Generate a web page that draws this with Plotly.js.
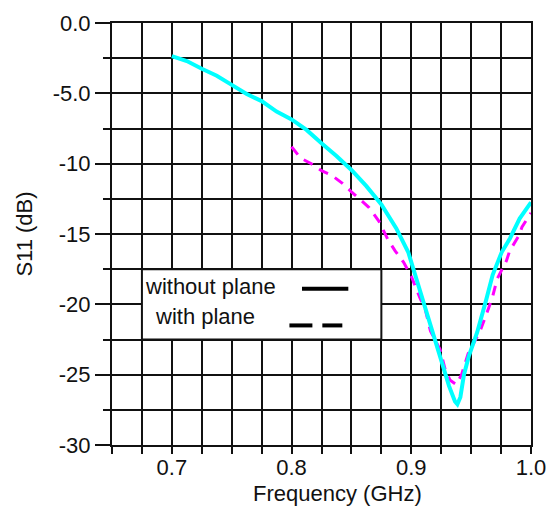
<!DOCTYPE html>
<html>
<head>
<meta charset="utf-8">
<script src="https://cdn.plot.ly/plotly-3.0.1.min.js"></script>
<style>
html,body{margin:0;padding:0;background:#fff;}
#chart{width:554px;height:508px;}
</style>
</head>
<body>
<div id="chart"></div>
<script>
// S11 without ground plane (solid cyan)
const freqWithout = [0.700,0.7125,0.725,0.7375,0.750,0.7625,0.775,0.7875,0.800,0.8125,0.825,0.8375,0.850,0.8625,0.875,0.8875,0.8975,0.9025,0.9075,0.9175,0.925,0.9315,0.9365,0.9385,0.941,0.944,0.948,0.955,0.9625,0.968,0.9755,0.9825,0.9905,1.000];
const s11Without  = [-2.35,-2.7,-3.25,-3.75,-4.4,-5.05,-5.55,-6.3,-6.85,-7.6,-8.55,-9.45,-10.45,-11.6,-12.9,-14.6,-16.3,-17.7,-19.3,-22.0,-24.0,-25.8,-26.9,-27.1,-26.6,-25.0,-23.7,-22.0,-19.7,-17.9,-16.3,-15.3,-13.9,-12.75];
// S11 with ground plane (dashed magenta)
const freqWith = [0.800,0.8075,0.8165,0.825,0.833,0.8425,0.850,0.8575,0.8645,0.873,0.8805,0.8865,0.8935,0.900,0.9075,0.9115,0.916,0.924,0.9285,0.9325,0.9375,0.942,0.9475,0.9575,0.9675,0.9717,0.9745,0.9795,0.9822,0.990,0.9925,1.000];
const s11With  = [-8.8,-9.6,-10.0,-10.5,-10.8,-11.4,-12.0,-12.6,-13.1,-14.1,-15.4,-16.2,-17.0,-18.0,-19.6,-20.3,-21.9,-23.2,-24.7,-25.4,-25.7,-25.0,-23.5,-21.9,-19.6,-18.2,-17.7,-16.9,-16.2,-15.1,-14.5,-13.5];

const xTickVals = [0.7,0.8,0.9,1.0];
const xTickText = ["0.7","0.8","0.9","1.0"];
const yTickVals = [0,-5,-10,-15,-20,-25,-30];
const yTickText = ["0.0","-5.0","-10","-15","-20","-25","-30"];
const legendLabels = ["without plane","with plane"];
const xTitle = "Frequency (GHz)";
const yTitle = "S11 (dB)";

const FONT = "Arial, 'Liberation Sans', sans-serif";
const TXT = "#111";

const traces = [
  {x: freqWith, y: s11With, type: "scatter", mode: "lines", name: legendLabels[1],
   line: {color: "#ff00ff", width: 3, dash: "10px,8px"}, showlegend: false},
  {x: freqWithout, y: s11Without, type: "scatter", mode: "lines", name: legendLabels[0],
   line: {color: "#00ffff", width: 4}, showlegend: false}
];

const layout = {
  width: 554, height: 508,
  margin: {l: 112, r: 23, t: 23, b: 63},
  paper_bgcolor: "#fff", plot_bgcolor: "#fff",
  font: {family: FONT, size: 22, color: TXT},
  showlegend: false,
  xaxis: {
    range: [0.65, 1.0], tickmode: "array", tickvals: xTickVals, ticktext: xTickText,
    ticks: "outside", ticklen: 7, tickwidth: 2, tickcolor: "#111", ticklabelstandoff: -5,
    showgrid: true, gridcolor: "#111", gridwidth: 2,
    minor: {tickmode: "linear", tick0: 0.65, dtick: 0.025, ticks: "outside", ticklen: 7, tickwidth: 2, tickcolor: "#111", showgrid: true, gridcolor: "#111", gridwidth: 2},
    showline: true, mirror: true, linecolor: "#111", linewidth: 2, zeroline: false,
    tickfont: {family: FONT, size: 22, color: TXT}, fixedrange: true
  },
  yaxis: {
    range: [-30, 0], tickmode: "array", tickvals: yTickVals, ticktext: yTickText,
    ticks: "outside", ticklen: 15, tickwidth: 2, tickcolor: "#111",
    showgrid: true, gridcolor: "#111", gridwidth: 2,
    minor: {tickmode: "linear", tick0: 0, dtick: 2.5, ticks: "outside", ticklen: 7, tickwidth: 2, tickcolor: "#111", showgrid: true, gridcolor: "#111", gridwidth: 2},
    showline: true, mirror: true, linecolor: "#111", linewidth: 2, zeroline: false,
    tickfont: {family: FONT, size: 22, color: TXT},
    title: {text: yTitle, font: {family: FONT, size: 22, color: TXT}, standoff: 14},
    fixedrange: true
  },
  shapes: [
    {type: "rect", xref: "x", yref: "y", x0: 0.675, x1: 0.875, y0: -22.5, y1: -17.5,
     fillcolor: "#fff", line: {color: "#111", width: 2}, layer: "above"},
    {type: "line", xref: "x", yref: "y", x0: 0.8087, x1: 0.8474, y0: -18.9, y1: -18.9,
     line: {color: "#000", width: 4}, layer: "above"},
    {type: "line", xref: "x", yref: "y", x0: 0.7982, x1: 0.8174, y0: -21.5, y1: -21.5,
     line: {color: "#000", width: 4}, layer: "above"},
    {type: "line", xref: "x", yref: "y", x0: 0.8257, x1: 0.8424, y0: -21.5, y1: -21.5,
     line: {color: "#000", width: 4}, layer: "above"}
  ],
  annotations: [
    {text: legendLabels[0], xref: "x", yref: "y", x: 0.676, y: -18.75, xanchor: "left", yanchor: "middle",
     showarrow: false, font: {family: FONT, size: 22, color: TXT}},
    {text: legendLabels[1], xref: "x", yref: "y", x: 0.684, y: -20.9, xanchor: "left", yanchor: "middle",
     showarrow: false, font: {family: FONT, size: 22, color: TXT}},
    {text: xTitle, xref: "paper", yref: "paper", x: (337-112)/419, y: -(494-445)/422, xanchor: "center", yanchor: "middle",
     showarrow: false, font: {family: FONT, size: 22, color: TXT}}
  ]
};

Plotly.newPlot("chart", traces, layout, {staticPlot: true, displayModeBar: false});
</script>
</body>
</html>
